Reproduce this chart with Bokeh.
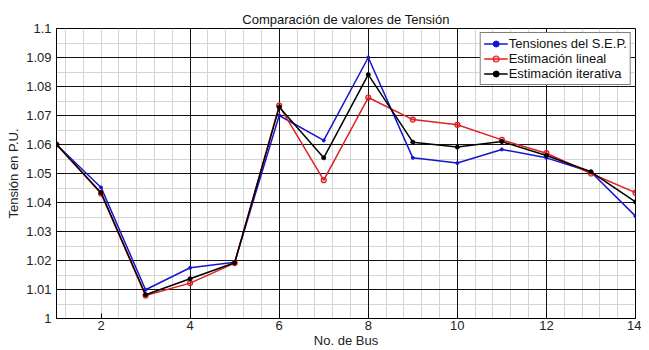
import numpy as np
from bokeh.plotting import figure
from bokeh.models import Range1d, FixedTicker, Grid, CustomJSTickFormatter, Legend, LegendItem
from bokeh.embed import file_html
from bokeh.resources import INLINE

bus = list(range(1, 15))
tension_sep = [1.060, 1.0452, 1.0099, 1.0175, 1.0194, 1.0700, 1.0614, 1.0900,
               1.0554, 1.0536, 1.0583, 1.0554, 1.0505, 1.0353]
estim_lineal = [1.060, 1.0431, 1.0079, 1.0122, 1.0191, 1.0734, 1.0477, 1.0762,
                1.0686, 1.0668, 1.0616, 1.0570, 1.0500, 1.0434]
estim_iter = [1.060, 1.0434, 1.0082, 1.0137, 1.0192, 1.0729, 1.0554, 1.0841,
              1.0608, 1.0591, 1.0610, 1.0562, 1.0506, 1.0402]
x_ticks = [2, 4, 6, 8, 10, 12, 14]
y_ticks = [1.0, 1.01, 1.02, 1.03, 1.04, 1.05, 1.06, 1.07, 1.08, 1.09, 1.1]

FONT = "Liberation Sans"

p = figure(width=641, height=350, output_backend="svg", toolbar_location=None,
           x_range=Range1d(1, 14), y_range=Range1d(1.0, 1.1),
           min_border_left=56, min_border_right=6, min_border_bottom=0, min_border_top=28)

p.title.text = "Comparación de valores de Tensión"
p.title.text_font = FONT
p.title.text_font_size = "13px"
p.title.text_font_style = "normal"
p.title.text_color = "#111111"
p.title.align = "center"
p.title.offset = 0
p.title.standoff = 4

p.outline_line_color = "black"
p.outline_line_width = 1
p.background_fill_color = "white"

p.xgrid.visible = False
p.ygrid.visible = False

xminor = [round(v, 1) for v in np.arange(1.2, 14.0, 0.4)
          if not (abs(v / 2 - round(v / 2)) < 1e-6 and round(v) != 2)]
yminor = [round(1.005 + 0.01 * i, 3) for i in range(10)]
p.add_layout(Grid(dimension=0, ticker=FixedTicker(ticks=xminor),
                  grid_line_color="#d4d4d4", grid_line_width=1))
p.add_layout(Grid(dimension=1, ticker=FixedTicker(ticks=yminor),
                  grid_line_color="#d4d4d4", grid_line_width=1))
p.add_layout(Grid(dimension=0, ticker=FixedTicker(ticks=[4, 6, 8, 10, 12]),
                  grid_line_color="#111111", grid_line_width=1))
p.add_layout(Grid(dimension=1, ticker=FixedTicker(ticks=y_ticks[1:-1]),
                  grid_line_color="#111111", grid_line_width=1))

p.xaxis.ticker = FixedTicker(ticks=x_ticks)
p.yaxis.ticker = FixedTicker(ticks=y_ticks)
p.yaxis.formatter = CustomJSTickFormatter(code="return String(Math.round(tick*1000)/1000);")
for ax in (p.xaxis, p.yaxis):
    ax.major_tick_in = 5
    ax.major_tick_out = 0
    ax.minor_tick_in = 0
    ax.minor_tick_out = 0
    ax.axis_line_color = "black"
    ax.major_tick_line_color = "black"
    ax.major_label_text_font = FONT
    ax.major_label_text_font_size = "13px"
    ax.major_label_text_color = "#222222"
    ax.axis_label_text_font = FONT
    ax.axis_label_text_font_size = "13px"
    ax.axis_label_text_font_style = "normal"
    ax.axis_label_text_color = "#222222"
p.xaxis.axis_label = "No. de Bus"
p.yaxis.axis_label = "Tensión en P.U."
p.xaxis.major_label_standoff = 2
p.xaxis.axis_label_standoff = 0
p.yaxis.major_label_standoff = 5
p.yaxis.axis_label_standoff = 2

r1l = p.line(bus, tension_sep, line_color="#1515d0", line_width=1.5)
r1m = p.scatter(bus, tension_sep, marker="circle", size=3, color="#1515d0")
r2l = p.line(bus, estim_lineal, line_color="#e02020", line_width=1.5)
r2m = p.scatter(bus, estim_lineal, marker="circle", size=5, line_color="#e02020",
                fill_color="#e02020", fill_alpha=0.3, line_width=1.2)
r3l = p.line(bus, estim_iter, line_color="black", line_width=1.5)
r3m = p.scatter(bus, estim_iter, marker="circle", size=4, color="black")

legend = Legend(items=[
    LegendItem(label="Tensiones del S.E.P.", renderers=[r1l, r1m]),
    LegendItem(label="Estimación lineal", renderers=[r2l, r2m]),
    LegendItem(label="Estimación iterativa", renderers=[r3l, r3m]),
], location="top_right")
legend.label_text_font = FONT
legend.label_text_font_size = "13px"
legend.label_text_color = "#111111"
legend.border_line_color = "black"
legend.border_line_width = 1.5
legend.background_fill_alpha = 1
legend.margin = 4
legend.padding = 3
legend.spacing = 0
legend.glyph_width = 24
legend.glyph_height = 15
legend.label_height = 15
legend.label_standoff = 1
p.add_layout(legend)

open("out.html", "w").write(file_html(p, INLINE))
